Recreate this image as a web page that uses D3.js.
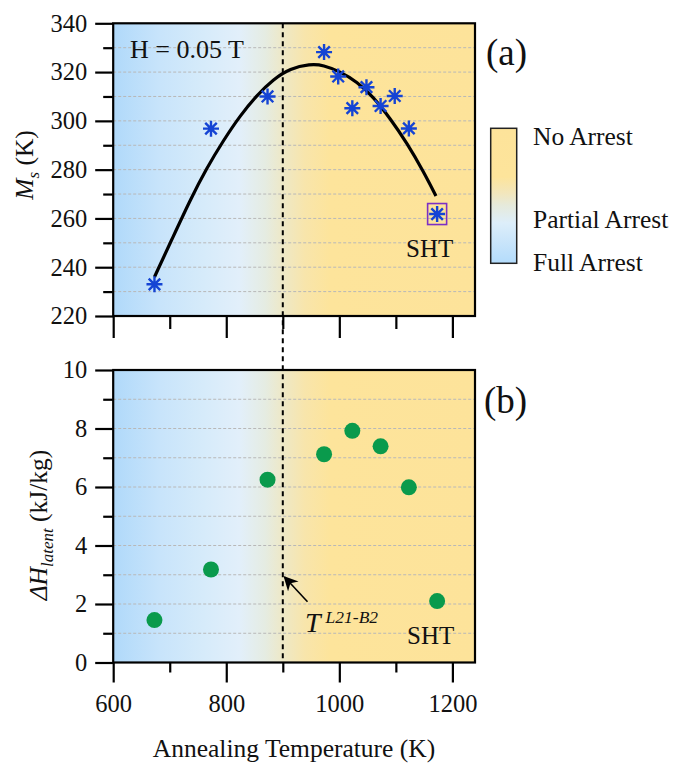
<!DOCTYPE html>
<html>
<head>
<meta charset="utf-8">
<script src="https://cdn.jsdelivr.net/npm/d3@7"></script>
<style>
  body { margin: 0; background: #fff; }
  svg { display: block; }
</style>
</head>
<body>
<svg id="chart" width="674" height="768"></svg>
<script>
// ---- data ----
const annealT = [673, 773, 873, 973, 998, 1023, 1048, 1073, 1098, 1123, 1173];
const msValues = [233, 296.8, 310, 328.2, 318.2, 305.2, 313.8, 306.1, 310.2, 296.9, 261.8];

// fitted curve, points
const fitT = [673, 706, 736, 765, 795, 824, 854, 883, 913, 948, 972, 1001, 1031, 1060, 1090, 1120, 1149, 1171];
const fitMs = [236, 252.5, 267.5, 280.5, 292, 302, 310.5, 317, 321.5, 323.3, 322.9, 320.2, 316.1, 309.9, 301, 290.8, 279.2, 269.2];

const latentT = [673, 773, 873, 973, 1023, 1073, 1123, 1173];
const latentH = [1.45, 3.18, 6.25, 7.12, 7.92, 7.39, 5.99, 2.1];

const msTicks = [220, 240, 260, 280, 300, 320, 340];
const msMinor = [230, 250, 270, 290, 310, 330];
const hTicks = [0, 2, 4, 6, 8, 10];
const hMinor = [1, 3, 5, 7, 9];
const tTicks = [600, 800, 1000, 1200];
const tMinor = [700, 900, 1100];
const transitionT = 900;
const legendLabels = ["No Arrest", "Partial Arrest", "Full Arrest"];

const FONT = '"Liberation Serif", "Times New Roman", Tinos, "DejaVu Serif", serif';

// ---- layout ----
const svg = d3.select("#chart").style("font-family", FONT);
const left = 113.2, right = 475;
const x = d3.scaleLinear().domain([600, 1240]).range([left, right]);
const yA = d3.scaleLinear().domain([220, 340]).range([316, 23.3]);
const yB = d3.scaleLinear().domain([0, 10]).range([662.5, 370]);

// background gradient (full arrest -> no arrest)
const defs = svg.append("defs");
const bg = defs.append("linearGradient").attr("id", "bgGrad")
  .attr("gradientUnits", "userSpaceOnUse")
  .attr("x1", left).attr("x2", right).attr("y1", 0).attr("y2", 0);
[[0, "#b0d9fa"], [0.13, "#c8e4fb"], [0.25, "#d6ebfa"], [0.35, "#e2effa"],
 [0.42, "#e5ece2"], [0.47, "#eee8c6"], [0.53, "#f8e5ab"], [0.6, "#fde49b"], [1, "#fde39a"]]
  .forEach(s => bg.append("stop").attr("offset", s[0]).attr("stop-color", s[1]));

const lg = defs.append("linearGradient").attr("id", "legGrad")
  .attr("x1", 0).attr("x2", 0).attr("y1", 0).attr("y2", 1);
[[0, "#fde39a"], [0.36, "#fde49b"], [0.48, "#f2e6bc"], [0.57, "#e6eadb"],
 [0.7, "#ddeefa"], [1, "#b3dbfb"]]
  .forEach(s => lg.append("stop").attr("offset", s[0]).attr("stop-color", s[1]));

function panel(y, major, minor, grid, majorLen, minorLen) {
  const g = svg.append("g");
  const y0 = y.range()[0], y1 = y.range()[1];
  g.append("rect").attr("x", left).attr("y", y1)
    .attr("width", right - left).attr("height", y0 - y1)
    .attr("fill", "url(#bgGrad)");
  // grid
  g.selectAll(".grid").data(grid).enter().append("line")
    .attr("x1", left).attr("x2", right)
    .attr("y1", d => y(d)).attr("y2", d => y(d))
    .attr("stroke", "#b8b8b8").attr("stroke-width", 1)
    .attr("stroke-dasharray", "3,2");
  // y axis
  const ya = g.append("g").attr("transform", `translate(${left},0)`)
    .call(d3.axisLeft(y).tickValues(major).tickSize(18).tickPadding(8).tickFormat(d3.format("d")));
  const ym = g.append("g").attr("transform", `translate(${left},0)`)
    .call(d3.axisLeft(y).tickValues(minor).tickSize(10).tickFormat(""));
  // x axis
  const xa = g.append("g").attr("transform", `translate(0,${y0})`)
    .call(d3.axisBottom(x).tickValues(tTicks).tickSize(majorLen).tickPadding(12).tickFormat(d3.format("d")));
  const xm = g.append("g").attr("transform", `translate(0,${y0})`)
    .call(d3.axisBottom(x).tickValues(tMinor).tickSize(minorLen).tickFormat(""));
  [ya, ym, xa, xm].forEach(a => {
    a.attr("font-family", null).attr("font-size", null);
    a.select(".domain").remove();
    a.selectAll("line").attr("stroke", "#000").attr("stroke-width", 2.2);
    a.selectAll("text").attr("font-size", 24.5).attr("fill", "#111");
  });
  g.append("rect").attr("x", left).attr("y", y1)
    .attr("width", right - left).attr("height", y0 - y1)
    .attr("fill", "none").attr("stroke", "#000").attr("stroke-width", 2.2);
  return { g, xa };
}

const pa = panel(yA, msTicks, msMinor, d3.range(230, 340, 10), 22, 13);
pa.xa.selectAll("text").remove();
const pb = panel(yB, hTicks, hMinor, d3.range(1, 10, 1), 20, 10);

// vertical transition line
svg.append("line")
  .attr("x1", x(transitionT)).attr("x2", x(transitionT))
  .attr("y1", yA(340)).attr("y2", yB(0))
  .attr("stroke", "#000").attr("stroke-width", 2)
  .attr("stroke-dasharray", "5,4");

// fitted curve
const line = d3.line().x((d, i) => x(fitT[i])).y(d => yA(d)).curve(d3.curveBasis);
svg.append("path").datum(fitMs).attr("d", line)
  .attr("fill", "none").attr("stroke", "#000").attr("stroke-width", 3.2);

// star markers
const r = 8;
const starPath = `M${-r},0L${r},0M0,${-r}L0,${r}M${-r * 0.72},${-r * 0.72}L${r * 0.72},${r * 0.72}M${-r * 0.72},${r * 0.72}L${r * 0.72},${-r * 0.72}`;
svg.append("g").selectAll("path").data(msValues).enter().append("path")
  .attr("transform", (d, i) => `translate(${x(annealT[i])},${yA(d)})`)
  .attr("d", starPath).attr("stroke", "#1544d4").attr("stroke-width", 2.4).attr("fill", "none");

// SHT box
const sx = x(annealT[annealT.length - 1]), sy = yA(msValues[msValues.length - 1]);
svg.append("rect").attr("x", sx - 9.5).attr("y", sy - 10.5).attr("width", 19).attr("height", 21)
  .attr("fill", "none").attr("stroke", "#7d2fc4").attr("stroke-width", 1.6);

// latent heat dots
svg.append("g").selectAll("circle").data(latentH).enter().append("circle")
  .attr("cx", (d, i) => x(latentT[i])).attr("cy", d => yB(d))
  .attr("r", 8).attr("fill", "#0a9a4c");

// text
const txt = (xp, yp, s, size) => svg.append("text").attr("x", xp).attr("y", yp)
  .attr("font-size", size).attr("fill", "#111").text(s);
txt(130, 58, "H = 0.05 T", 26);
txt(406, 257, "SHT", 25);
txt(407, 644, "SHT", 25);
txt(486, 65, "(a)", 37);
txt(484, 413, "(b)", 37);

// legend bar
svg.append("rect").attr("x", 490.7).attr("y", 128.3).attr("width", 26).attr("height", 135)
  .attr("fill", "url(#legGrad)").attr("stroke", "#222").attr("stroke-width", 1.5);
[145, 228, 271].forEach((yy, i) => txt(533, yy, legendLabels[i], 25.5));

// T^(L21-B2) annotation
defs.append("marker").attr("id", "arr").attr("viewBox", "0 0 10 10")
  .attr("refX", 9).attr("refY", 5).attr("markerWidth", 9).attr("markerHeight", 9)
  .attr("orient", "auto-start-reverse")
  .append("path").attr("d", "M0,0L10,5L0,10L3,5Z").attr("fill", "#000");
svg.append("line").attr("x1", 307.5).attr("y1", 601.7).attr("x2", 284.5).attr("y2", 577)
  .attr("stroke", "#000").attr("stroke-width", 1.6).attr("marker-end", "url(#arr)");
const tl = svg.append("text").attr("x", 305).attr("y", 632).attr("fill", "#111").attr("font-style", "italic");
tl.append("tspan").attr("font-size", 28).text("T");
tl.append("tspan").attr("font-size", 17.5).attr("dx", 5).attr("dy", -9).text("L21-B2");

// axis titles
const ta = svg.append("text").attr("transform", "translate(33,165) rotate(-90)")
  .attr("text-anchor", "middle").attr("font-size", 25.5).attr("fill", "#111");
ta.append("tspan").attr("font-style", "italic").text("M");
ta.append("tspan").attr("font-style", "italic").attr("font-size", 17).attr("dy", 6).text("s");
ta.append("tspan").attr("dy", -6).text(" (K)");

const tb = svg.append("text").attr("transform", "translate(47,525) rotate(-90)")
  .attr("text-anchor", "middle").attr("font-size", 25.5).attr("fill", "#111");
tb.append("tspan").attr("font-style", "italic").text("ΔH");
tb.append("tspan").attr("font-style", "italic").attr("font-size", 17).attr("dy", 6).text("latent");
tb.append("tspan").attr("dy", -6).text(" (kJ/kg)");

svg.append("text").attr("x", 294).attr("y", 757).attr("text-anchor", "middle")
  .attr("font-size", 25.5).attr("fill", "#111").text("Annealing Temperature (K)");
</script>
</body>
</html>
